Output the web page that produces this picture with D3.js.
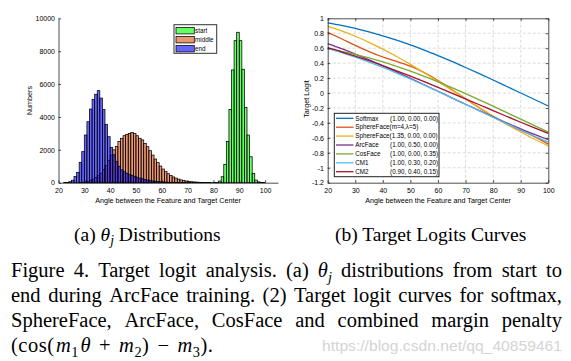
<!DOCTYPE html>
<html><head><meta charset="utf-8">
<script src="https://cdn.jsdelivr.net/npm/d3@7"></script>
<style>body{margin:0;background:#fff}svg{display:block}</style>
</head><body>
<svg id="c" width="571" height="361"></svg>
<script>
// ---------- (a) histogram data: bin left edges (deg) and counts ----------
const startAngles = [80,81,82,83,84,85,86,87,88,89,90,91,92,93,94,95,96,97,98,99];
const startCounts = [10,20,100,365,1115,2500,4460,6860,8640,9150,8640,6900,4580,2900,1580,570,160,50,20,10];
const middleAngles = [28,29,30,31,32,33,34,35,36,37,38,39,40,41,42,43,44,45,46,47,48,49,50,51,52,53,54,55,56,57,58,59,60,61,62,63,64,65,66,67,68,69,70,71,72,73,74,75,76,77,78,79];
const middleCounts = [20,40,60,100,150,220,320,440,580,800,1050,1350,1680,2000,2200,2500,2700,2860,2940,3000,3060,3000,2860,2700,2600,2390,2190,1950,1680,1440,1220,1010,830,680,550,440,350,280,220,170,130,100,80,60,45,35,25,18,12,8,5,3];
const endAngles = [22,23,24,25,26,27,28,29,30,31,32,33,34,35,36,37,38,39,40,41,42,43,44,45,46,47,48,49,50,51,52,53,54,55,56,57,58,59,60,61,62,63,64,65,66,67,68,69,70];
const endCounts = [5,20,60,150,370,630,1240,1890,2900,3710,4480,5070,5380,5600,5150,4450,3550,2800,2150,1700,1300,1000,780,670,580,510,450,390,330,280,240,200,165,135,110,90,70,55,45,35,28,22,17,13,10,7,5,4,3];
const histNames = ["start","middle","end"];
const histXTicks = [20,30,40,50,60,70,80,90,100];
const histYTicks = [0,2000,4000,6000,8000,10000];

// ---------- (b) target logit curves ----------
const logitAngles = [20,25,30,35,40,45,50,55,60,65,70,75,80,85,90,95,100];
const softmax   = [0.940,0.906,0.866,0.819,0.766,0.707,0.643,0.574,0.500,0.423,0.342,0.259,0.174,0.087,0.000,-0.087,-0.174];
const sphereFace = [0.812,0.726,0.638,0.555,0.482,0.423,0.359,0.272,0.167,0.048,-0.077,-0.201,-0.316,-0.417,-0.500,-0.583,-0.684];
const sphereFace135 = [0.891,0.831,0.760,0.679,0.588,0.489,0.383,0.271,0.156,0.039,-0.078,-0.195,-0.309,-0.419,-0.522,-0.619,-0.707];
const arcFace   = [0.661,0.593,0.520,0.444,0.364,0.282,0.197,0.111,0.024,-0.064,-0.150,-0.236,-0.320,-0.401,-0.480,-0.554,-0.625];
const cosFace   = [0.590,0.556,0.516,0.469,0.416,0.357,0.293,0.224,0.150,0.073,-0.008,-0.091,-0.176,-0.263,-0.350,-0.437,-0.524];
const cm1       = [0.597,0.541,0.479,0.413,0.342,0.267,0.188,0.106,0.022,-0.064,-0.151,-0.238,-0.325,-0.411,-0.496,-0.578,-0.657];
const cm2       = [0.606,0.552,0.494,0.432,0.366,0.297,0.226,0.152,0.076,-0.001,-0.079,-0.157,-0.236,-0.314,-0.391,-0.466,-0.539];
const curveNames = ["Softmax","SphereFace(m=4,\u03bb=5)","SphereFace(1.35, 0.00, 0.00)","ArcFace","CosFace","CM1","CM2"];
const curveParams = ["(1.00, 0.00, 0.00)","","","(1.00, 0.50, 0.00)","(1.00, 0.00, 0.35)","(1.00, 0.30, 0.20)","(0.90, 0.40, 0.15)"];
const logitXTicks = [20,30,40,50,60,70,80,90,100];
const logitYTicks = [-1.2,-1,-0.8,-0.6,-0.4,-0.2,0,0.2,0.4,0.6,0.8,1];

const svg = d3.select("#c");
const SANS = "'Liberation Sans', Arial, sans-serif";
const SERIF = "'Liberation Serif', 'Times New Roman', serif";
const axisCol = "#222";

function styleAxis(g){
  g.select(".domain").attr("stroke", axisCol).attr("stroke-width", 0.8);
  g.selectAll(".tick line").attr("stroke", axisCol).attr("stroke-width", 0.8);
  g.selectAll(".tick text").attr("fill", "#000").attr("font-size", 7).attr("font-family", SANS);
  g.attr("font-family", SANS);
}

// ================= (a) =================
const xL = d3.scaleLinear([20,105],[58.5,278]);
const yL = d3.scaleLinear([0,10000],[182.7,18.3]);
const gA = svg.append("g");

const histColors = ["#00ff00","#D95319","#0000ff"];
const histSeries = [
  startAngles.map((a,i)=>({a, v:startCounts[i]})),
  middleAngles.map((a,i)=>({a, v:middleCounts[i]})),
  endAngles.map((a,i)=>({a, v:endCounts[i]}))
];
histSeries.forEach((s,k)=>{
  gA.append("g").selectAll("rect").data(s).join("rect")
    .attr("x", d=>xL(d.a)).attr("width", d=>xL(d.a+1)-xL(d.a))
    .attr("y", d=>yL(d.v)).attr("height", d=>yL(0)-yL(d.v))
    .attr("fill", histColors[k]).attr("fill-opacity", 0.6)
    .attr("stroke", "#000").attr("stroke-width", 0.75);
});

gA.append("g").attr("transform","translate(0,182.7)")
  .call(d3.axisBottom(xL).tickValues(histXTicks).tickSizeInner(-2.5).tickSizeOuter(0).tickPadding(5))
  .call(styleAxis);
gA.append("g").attr("transform","translate(58.5,0)")
  .call(d3.axisLeft(yL).tickValues(histYTicks).tickFormat(d3.format("d")).tickSizeInner(-2.5).tickSizeOuter(0).tickPadding(3.5))
  .call(styleAxis);

gA.append("text").attr("x",168).attr("y",202.5).attr("text-anchor","middle")
  .attr("font-family",SANS).attr("font-size",7.2).attr("fill","#000")
  .text("Angle between the Feature and Target Center");
gA.append("text").attr("transform","translate(31.5,100.5) rotate(-90)").attr("text-anchor","middle")
  .attr("font-family",SANS).attr("font-size",7.2).attr("fill","#000").text("Numbers");

const legA = gA.append("g");
legA.append("rect").attr("x",174).attr("y",24.7).attr("width",42.7).attr("height",28.6)
  .attr("fill","#fff").attr("stroke","#333").attr("stroke-width",1);
histNames.forEach((n,k)=>{
  const cy = 30.7 + k*9;
  legA.append("rect").attr("x",176).attr("y",cy-3.2).attr("width",18.3).attr("height",6.4)
    .attr("fill",histColors[k]).attr("fill-opacity",0.6).attr("stroke","#000").attr("stroke-width",0.75);
  legA.append("text").attr("x",195).attr("y",cy+2.2).attr("font-family",SANS).attr("font-size",6.3)
    .attr("fill","#000").text(n);
});

// ================= (b) =================
const xR = d3.scaleLinear([20,100],[327.7,548.3]);
const yR = d3.scaleLinear([-1.2,1],[182.7,18.3]);
const gB = svg.append("g");

gB.append("g").selectAll("line").data(logitXTicks.slice(1,-1)).join("line")
  .attr("x1",d=>xR(d)).attr("x2",d=>xR(d)).attr("y1",yR(-1.2)).attr("y2",yR(1))
  .attr("stroke","#d2d2d2").attr("stroke-width",0.8).attr("stroke-dasharray","3,2");
gB.append("g").selectAll("line").data(logitYTicks.slice(1,-1)).join("line")
  .attr("y1",d=>yR(d)).attr("y2",d=>yR(d)).attr("x1",xR(20)).attr("x2",xR(100))
  .attr("stroke","#d2d2d2").attr("stroke-width",0.8).attr("stroke-dasharray","3,2");

const curveData = [softmax, sphereFace, sphereFace135, arcFace, cosFace, cm1, cm2];
const curveColors = ["#0072BD","#D95319","#EDB120","#7E2F8E","#77AC30","#4DBEEE","#A2142F"];
const line = d3.line().x((d,i)=>xR(logitAngles[i])).y(d=>yR(d)).curve(d3.curveMonotoneX);
curveData.forEach((s,k)=>{
  gB.append("path").attr("d", line(s)).attr("fill","none")
    .attr("stroke",curveColors[k]).attr("stroke-width",1.3);
});

const fmt = d => String(+(+d).toFixed(1));
gB.append("g").attr("transform","translate(0,182.7)")
  .call(d3.axisBottom(xR).tickValues(logitXTicks).tickSizeInner(-2.5).tickSizeOuter(0).tickPadding(5))
  .call(styleAxis);
gB.append("g").attr("transform","translate(0,18.3)")
  .call(d3.axisTop(xR).tickValues(logitXTicks).tickFormat("").tickSizeInner(-2.5).tickSizeOuter(0))
  .call(styleAxis);
gB.append("g").attr("transform","translate(327.7,0)")
  .call(d3.axisLeft(yR).tickValues(logitYTicks).tickFormat(fmt).tickSizeInner(-2.5).tickSizeOuter(0).tickPadding(3.7))
  .call(styleAxis);
gB.append("g").attr("transform","translate(548.3,0)")
  .call(d3.axisRight(yR).tickValues(logitYTicks).tickFormat("").tickSizeInner(-2.5).tickSizeOuter(0))
  .call(styleAxis);

gB.append("text").attr("x",438).attr("y",202.5).attr("text-anchor","middle")
  .attr("font-family",SANS).attr("font-size",7.2).attr("fill","#000")
  .text("Angle between the Feature and Target Center");
gB.append("text").attr("transform","translate(308.5,99) rotate(-90)").attr("text-anchor","middle")
  .attr("font-family",SANS).attr("font-size",7.2).attr("fill","#000").text("Target Logit");

const legB = gB.append("g");
legB.append("rect").attr("x",334.3).attr("y",113.3).attr("width",104.7).attr("height",63.4)
  .attr("fill","#fff").attr("stroke","#222").attr("stroke-width",1);
curveNames.forEach((n,k)=>{
  const cy = 118.3 + k*8.9;
  legB.append("line").attr("x1",336).attr("x2",353.5).attr("y1",cy).attr("y2",cy)
    .attr("stroke",curveColors[k]).attr("stroke-width",1.3);
  legB.append("text").attr("x",355.3).attr("y",cy+2.2).attr("font-family",SANS).attr("font-size",6.3)
    .attr("fill","#000").text(n);
  if (curveParams[k]) legB.append("text").attr("x",438).attr("y",cy+2.2).attr("text-anchor","end")
    .attr("font-family",SANS).attr("font-size",6.3).attr("fill","#000").text(curveParams[k]);
});

// ================= captions =================
function addText(g, segs, x, y, size){
  const t = g.append("text").attr("x",x).attr("y",y).attr("font-family",SERIF).attr("font-size",size).attr("fill","#000");
  let shifted = false;
  segs.forEach(s=>{
    const ts = t.append("tspan").text(s.t);
    if (s.i) ts.attr("font-style","italic");
    if (s.dx) ts.attr("dx", s.dx);
    if (s.sub && !shifted){ ts.attr("dy", size*0.22).attr("font-size", size*0.7); shifted = true; }
    else if (s.sub){ ts.attr("font-size", size*0.7); }
    else if (shifted){ ts.attr("dy", -size*0.22); shifted = false; }
  });
  return t;
}
function justify(g, words, x0, x1, y, size){
  const nodes = words.map(w => addText(g, w, 0, y, size));
  const widths = nodes.map(n => n.node().getComputedTextLength());
  const total = d3.sum(widths);
  const gap = (x1 - x0 - total) / (words.length - 1);
  let x = x0;
  nodes.forEach((n,i)=>{ n.attr("x", x); x += widths[i] + gap; });
}
const P = s => [{t:s}];
const gC = svg.append("g");
addText(gC, [{t:"(a) "},{t:"\u03b8",i:true},{t:"j",i:true,sub:true},{t:" Distributions"}], 74, 240.5, 19.5);
addText(gC, [{t:"(b) Target Logits Curves"}], 335, 240.5, 19.5);

const capSize = 20.5;
justify(gC, [P("Figure"),P("4."),P("Target"),P("logit"),P("analysis."),P("(a)"),
  [{t:"\u03b8",i:true},{t:"j",i:true,sub:true}],P("distributions"),P("from"),P("start"),P("to")], 11, 562, 277, capSize);
justify(gC, ["end","during","ArcFace","training.","(2)","Target","logit","curves","for","softmax,"].map(P), 11, 562, 302, capSize);
justify(gC, ["SphereFace,","ArcFace,","CosFace","and","combined","margin","penalty"].map(P), 11, 562, 327, capSize);
addText(gC, [{t:"(cos("},{t:"m",i:true,dx:1.5},{t:"1",sub:true},{t:"\u03b8",i:true,dx:1.5},{t:"+",dx:8},{t:"m",i:true,dx:8},{t:"2",sub:true},
  {t:")"},{t:"\u2212",dx:8},{t:"m",i:true,dx:8},{t:"3",sub:true},{t:")."}], 11, 352, capSize)
  .attr("letter-spacing", 0.5);

gC.append("text").attr("x",322).attr("y",351)
  .attr("font-family",SANS).attr("font-size",14.5).attr("fill","#d4d4d4")
  .attr("textLength",240).attr("lengthAdjust","spacingAndGlyphs")
  .text("https://blog.csdn.net/qq_40859461");
</script>
</body></html>
